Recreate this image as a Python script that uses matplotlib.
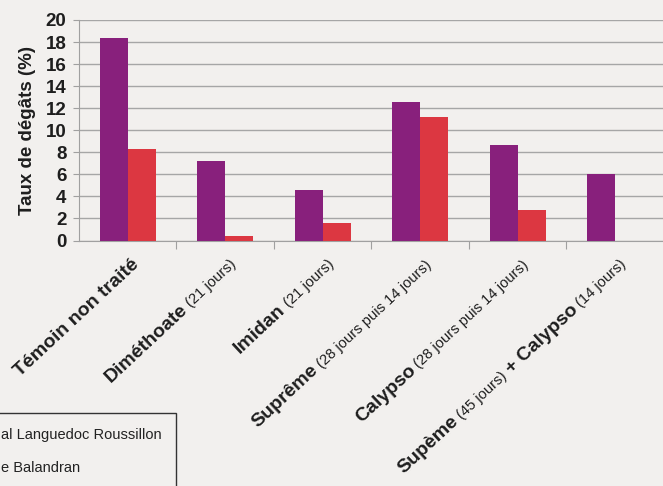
import numpy as np
import matplotlib
matplotlib.use('Agg')
import matplotlib.pyplot as plt
from matplotlib.patches import Rectangle
from matplotlib.transforms import IdentityTransform

# Data
labels = [
    [('Témoin non traité', True)],
    [('Diméthoate', True), ('(21 jours)', False)],
    [('Imidan', True), ('(21 jours)', False)],
    [('Suprême', True), ('(28 jours puis 14 jours)', False)],
    [('Calypso', True), ('(28 jours puis 14 jours)', False)],
    [('Supème', True), ('(45 jours)', False), ('+ Calypso', True), ('(14 jours)', False)],
]
regional = [18.4, 7.2, 4.6, 12.6, 8.7, 6.0]
balandran = [8.3, 0.4, 1.6, 11.2, 2.8, np.nan]
# legend is cut by the scan, only these parts are visible
legend_visible = ['al Languedoc Roussillon', 'e Balandran']

purple = '#88207c'
red = '#dc3741'
bg = '#f2f0ee'

plt.rcParams['font.family'] = ['Liberation Sans', 'DejaVu Sans']

fig = plt.figure(figsize=(6.63, 4.86), dpi=100, facecolor=bg)
ax = fig.add_axes([79 / 663, (486 - 240.5) / 486, 1 - 79 / 663, (240.5 - 20) / 486])
ax.set_facecolor(bg)

x = np.arange(len(regional))
w = 0.285
ax.bar(x - w / 2, regional, w, color=purple, zorder=3)
ax.bar(x + w / 2, balandran, w, color=red, zorder=3)

ax.set_ylim(0, 20)
ax.set_xlim(-0.5, 5.49)
ax.set_yticks(range(0, 21, 2))
ax.yaxis.grid(True, color='#a6a6a6', lw=1, zorder=0)
for s in ['top', 'right']:
    ax.spines[s].set_visible(False)
ax.spines['left'].set_color('#a0a0a0')
ax.spines['bottom'].set_color('#a0a0a0')
ax.tick_params(axis='y', length=4, color='#a0a0a0', labelsize=13.5, pad=5,
               labelcolor='#1e1e1e')
for t in ax.get_yticklabels():
    t.set_fontweight('bold')
ax.set_xticks(np.arange(0.5, 5.5, 1))
ax.set_xticklabels([])
ax.tick_params(axis='x', length=6, color='#a0a0a0')
ax.set_ylabel('Taux de dégâts (%)', fontsize=13.5, fontweight='bold',
              labelpad=7, color='#1e1e1e')

# rotated category labels made of bold and normal pieces
fig.canvas.draw()
renderer = fig.canvas.get_renderer()
rot = 43
ang = np.deg2rad(rot)
d = np.array([np.cos(ang), np.sin(ang)])
for i, parts in enumerate(labels):
    widths = []
    for txt, bold in parts:
        t = fig.text(0, 0, txt, fontsize=14 if bold else 10.6,
                     fontweight='bold' if bold else 'normal')
        widths.append(t.get_window_extent(renderer).width)
        t.remove()
    gap = 4
    total = sum(widths) + gap * (len(parts) - 1)
    end = ax.transData.transform((i, 0)) + np.array([12, -25])
    pos = end - d * total
    for (txt, bold), wd in zip(parts, widths):
        fig.text(pos[0], pos[1], txt, transform=IdentityTransform(),
                 fontsize=14 if bold else 10.6,
                 fontweight='bold' if bold else 'normal',
                 rotation=rot, rotation_mode='anchor',
                 ha='left', va='baseline', color='#1e1e1e')
        pos = pos + d * (wd + gap)

# partial legend box at bottom left
fig.patches.append(Rectangle((-0.1, -0.1), 0.1 + 176 / 663, 0.1 + (486 - 413) / 486,
                             transform=fig.transFigure, fill=False,
                             edgecolor='#333333', lw=1))
fig.text(1 / 663, 1 - 435 / 486, legend_visible[0], fontsize=10.5,
         ha='left', va='center', color='#222222')
fig.text(1 / 663, 1 - 468 / 486, legend_visible[1], fontsize=10.5,
         ha='left', va='center', color='#222222')

fig.savefig('out.png', dpi=100, facecolor=bg)
